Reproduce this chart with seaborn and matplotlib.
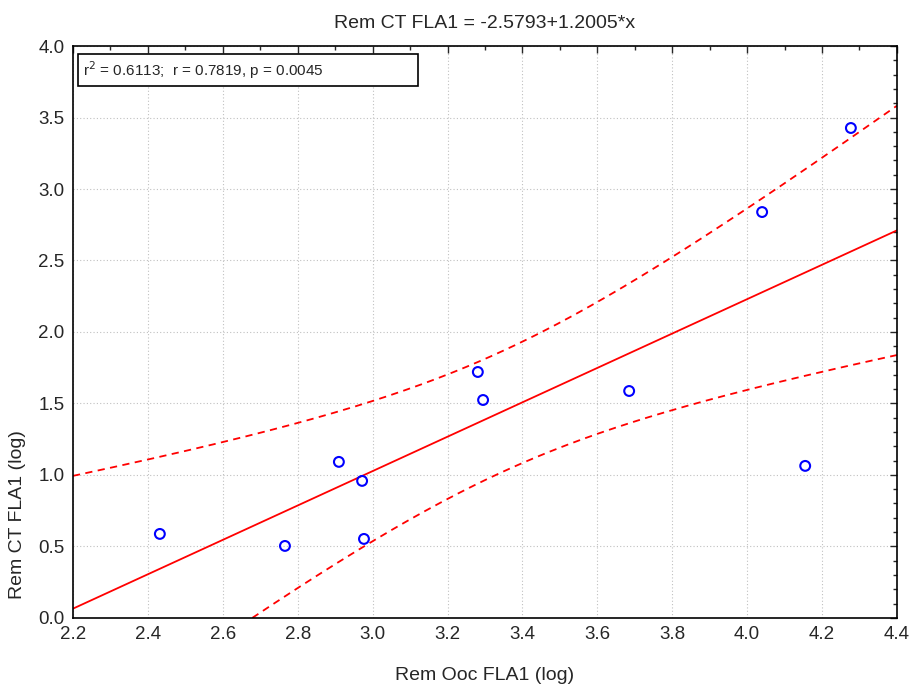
import numpy as np
import pandas as pd
import matplotlib
matplotlib.use("Agg")
import matplotlib.pyplot as plt
import seaborn as sns
from matplotlib.ticker import MultipleLocator

# Data
rem_ooc = [2.432, 2.766, 2.910, 2.972, 2.977, 3.281, 3.295, 3.685, 4.040, 4.155, 4.277]
rem_ct = [0.587, 0.503, 1.091, 0.958, 0.552, 1.720, 1.524, 1.587, 2.839, 1.063, 3.427]

title_text = "Rem CT FLA1 = -2.5793+1.2005*x"
stats_text = "r$^2$ = 0.6113;  r = 0.7819, p = 0.0045"
x_label = "Rem Ooc FLA1 (log)"
y_label = "Rem CT FLA1 (log)"

sns.set_style("white")
plt.rcParams["font.family"] = ["Liberation Sans", "DejaVu Sans"]

df = pd.DataFrame({"x": rem_ooc, "y": rem_ct})

# Linear fit and 95% confidence band for the mean
x = df["x"].values
y = df["y"].values
n = len(x)
slope, intercept = np.polyfit(x, y, 1)
resid = y - (intercept + slope * x)
s = np.sqrt(np.sum(resid ** 2) / (n - 2))
t_crit = 2.262  # t(0.975, df=9)
xs = np.linspace(2.2, 4.4, 200)
fit = intercept + slope * xs
se = s * np.sqrt(1.0 / n + (xs - x.mean()) ** 2 / np.sum((x - x.mean()) ** 2))
band = pd.DataFrame({"x": xs, "fit": fit, "lo": fit - t_crit * se, "hi": fit + t_crit * se})

fig, ax = plt.subplots(figsize=(9.12, 6.88), dpi=100)
fig.subplots_adjust(left=0.080, right=0.9835, top=0.933, bottom=0.102)

sns.lineplot(data=band, x="x", y="fit", color="red", lw=1.3, ax=ax)
sns.lineplot(data=band, x="x", y="lo", color="red", lw=1.3, linestyle=(0, (4, 3)), ax=ax)
sns.lineplot(data=band, x="x", y="hi", color="red", lw=1.3, linestyle=(0, (4, 3)), ax=ax)
sns.scatterplot(data=df, x="x", y="y", s=50, facecolors="none", edgecolor="blue",
                linewidth=1.5, zorder=5, ax=ax)

ax.set_xlim(2.2, 4.4)
ax.set_ylim(0.0, 4.0)
ax.xaxis.set_major_locator(MultipleLocator(0.2))
ax.xaxis.set_minor_locator(MultipleLocator(0.1))
ax.yaxis.set_major_locator(MultipleLocator(0.5))
ax.yaxis.set_minor_locator(MultipleLocator(0.1))
ax.xaxis.set_major_formatter(matplotlib.ticker.FormatStrFormatter("%.1f"))
ax.yaxis.set_major_formatter(matplotlib.ticker.FormatStrFormatter("%.1f"))
ax.tick_params(which="both", direction="in", top=True, right=True, labelsize=13.5)
ax.tick_params(which="major", length=5, width=1, pad=6)
ax.tick_params(which="minor", length=3, width=1)
ax.grid(True, which="major", color="#c0c0c0", linestyle=(0, (1, 2)), lw=0.8)
for sp in ax.spines.values():
    sp.set_color("black")
    sp.set_linewidth(1.2)

ax.set_title(title_text, fontsize=14, pad=13)
ax.set_xlabel(x_label, fontsize=14, labelpad=17)
ax.set_ylabel(y_label, fontsize=14)
ax.yaxis.set_label_coords(-0.057, 0.18)

ax.text(0.012, 0.958, stats_text + " " * 22, transform=ax.transAxes, fontsize=11,
        va="center", bbox=dict(boxstyle="square,pad=0.35", fc="white", ec="black", lw=1.2),
        zorder=6)

fig.savefig("out.png", dpi=100)
